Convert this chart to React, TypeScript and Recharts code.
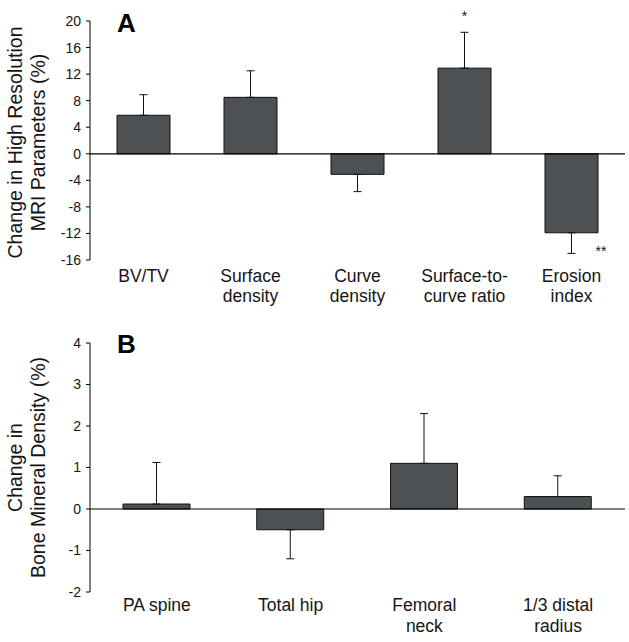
import React from "react";
import { ComposedChart, Bar, Line, XAxis, YAxis, ReferenceLine, ErrorBar } from "recharts";

// Panel A: high resolution MRI parameters
const mriLabels = ["BV/TV", "Surface|density", "Curve|density", "Surface-to-|curve ratio", "Erosion|index"];
const mriChange = [5.8, 8.5, -3.1, 12.9, -11.9];
const mriSem = [3.1, 4.0, 2.6, 5.4, 3.1];
const mriSig = ["", "", "", "*", "**"];
const mriTicks = [-16, -12, -8, -4, 0, 4, 8, 12, 16, 20];

// Panel B: bone mineral density
const bmdLabels = ["PA spine", "Total hip", "Femoral|neck", "1/3 distal|radius"];
const bmdChange = [0.12, -0.5, 1.1, 0.3];
const bmdSem = [1.0, 0.7, 1.2, 0.5];
const bmdTicks = [-2, -1, 0, 1, 2, 3, 4];

const FONT = "'Liberation Sans', Arial, Helvetica, sans-serif";
const BAR_FILL = "#4e5153";
const INK = "#151515";

const buildRows = (labels: string[], vals: number[], sem: number[], sig: string[] = []) =>
  labels.map((name, i) => ({
    name,
    value: vals[i],
    err: vals[i] >= 0 ? [0, sem[i]] : [sem[i], 0],
    errEnd: vals[i] >= 0 ? vals[i] + sem[i] : vals[i] - sem[i],
    sig: sig[i] || "",
  }));

const mriData = buildRows(mriLabels, mriChange, mriSem, mriSig);
const bmdData = buildRows(bmdLabels, bmdChange, bmdSem);

const makeTick = (firstDy: number, lineH: number) => (props: any) => {
  const { x, y, payload } = props;
  const lines = String(payload.value).split("|");
  return (
    <text x={x} y={y + firstDy} textAnchor="middle" fontSize={17.5} fill={INK} fontFamily={FONT}>
      {lines.map((l, i) => (
        <tspan key={i} x={x} dy={i === 0 ? 0 : lineH}>
          {l}
        </tspan>
      ))}
    </text>
  );
};

const makeTitle = (lines: string[], letter: string, letterDy: number, shift: number) => (props: any) => {
  const vb = props.viewBox || {};
  const cy = vb.y + vb.height / 2 + shift;
  return (
    <g fontFamily={FONT}>
      <text x={22} y={cy} transform={`rotate(-90, 22, ${cy})`} textAnchor="middle" fontSize={19.5} fill={INK}>
        {lines[0]}
      </text>
      <text x={45} y={cy} transform={`rotate(-90, 45, ${cy})`} textAnchor="middle" fontSize={19.5} fill={INK}>
        {lines[1]}
      </text>
      <text x={117} y={vb.y + letterDy} fontSize={26} fontWeight={700} fill="#000">
        {letter}
      </text>
    </g>
  );
};

// significance stars placed next to the error bar end
const SigDot = (props: any) => {
  const { cx, cy, payload, index } = props;
  if (!payload || !payload.sig) return <g key={index} />;
  const single = payload.sig === "*";
  return (
    <text
      key={index}
      x={single ? cx : cx + 29.5}
      y={single ? cy - 11.5 : cy + 3}
      textAnchor="middle"
      fontSize={14}
      fill={INK}
      fontFamily={FONT}
    >
      {payload.sig}
    </text>
  );
};

export default function App() {
  return (
    <div style={{ position: "absolute", left: 0, top: 0, width: 629, height: 642, background: "#fff" }}>
      <ComposedChart width={629} height={320} data={mriData} margin={{ top: 21, right: 4, left: 0, bottom: 0 }}>
        <XAxis
          dataKey="name"
          axisLine={false}
          tickLine={false}
          tickSize={0}
          tickMargin={0}
          height={60}
          interval={0}
          tick={makeTick(22, 20)}
        />
        <YAxis
          domain={[-16, 20]}
          ticks={mriTicks}
          interval={0}
          width={90}
          tickSize={4}
          tickMargin={5}
          axisLine={{ stroke: "#000" }}
          tickLine={{ stroke: "#000" }}
          tick={{ fontSize: 14, fill: INK, fontFamily: FONT }}
          label={{ content: makeTitle(["Change in High Resolution", "MRI Parameters (%)"], "A", 11, 2) }}
        />
        <ReferenceLine y={0} stroke="#000" strokeWidth={1.2} />
        <Bar dataKey="value" fill={BAR_FILL} stroke="#111" strokeWidth={1} barSize={53} isAnimationActive={false}>
          <ErrorBar dataKey="err" width={4} stroke="#111" strokeWidth={1} direction="y" />
        </Bar>
        <Line
          dataKey="errEnd"
          stroke="none"
          dot={SigDot}
          activeDot={false}
          legendType="none"
          isAnimationActive={false}
        />
      </ComposedChart>
      <ComposedChart width={629} height={322} data={bmdData} margin={{ top: 23, right: 4, left: 0, bottom: 0 }}>
        <XAxis
          dataKey="name"
          axisLine={false}
          tickLine={false}
          tickSize={0}
          tickMargin={0}
          height={50}
          interval={0}
          tick={makeTick(19, 21)}
        />
        <YAxis
          domain={[-2, 4]}
          ticks={bmdTicks}
          interval={0}
          width={90}
          tickSize={4}
          tickMargin={5}
          axisLine={{ stroke: "#000" }}
          tickLine={{ stroke: "#000" }}
          tick={{ fontSize: 14, fill: INK, fontFamily: FONT }}
          label={{ content: makeTitle(["Change in", "Bone Mineral Density (%)"], "B", 10, 0) }}
        />
        <ReferenceLine y={0} stroke="#000" strokeWidth={1.2} />
        <Bar dataKey="value" fill={BAR_FILL} stroke="#111" strokeWidth={1} barSize={67} isAnimationActive={false}>
          <ErrorBar dataKey="err" width={4} stroke="#111" strokeWidth={1} direction="y" />
        </Bar>
      </ComposedChart>
    </div>
  );
}
